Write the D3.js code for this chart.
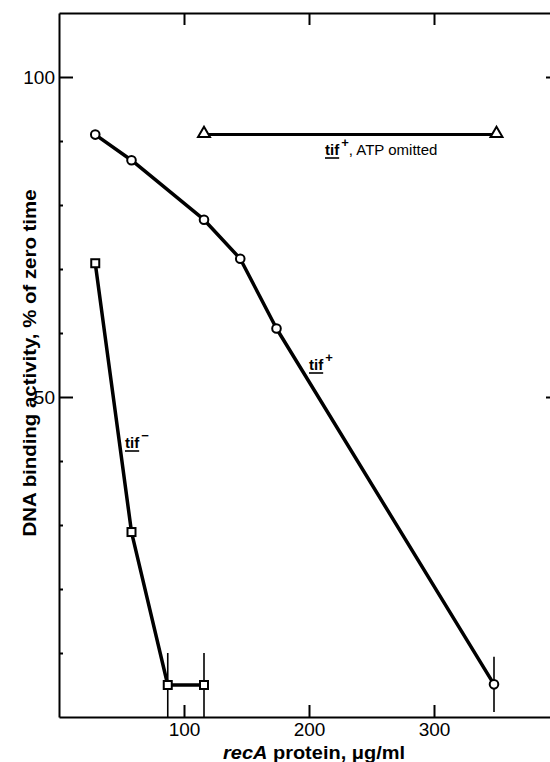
<!DOCTYPE html>
<html>
<head>
<meta charset="utf-8">
<title>recA DNA binding</title>
<script src="https://cdn.jsdelivr.net/npm/d3@7"></script>
<style>
body { margin:0; background:#fff; }
svg text { font-family:"Liberation Sans", Arial, sans-serif; fill:#000; }
.axis path, .axis line { stroke:#000; stroke-width:2px; }
.axis text { font-size:19px; }
.dataline { fill:none; stroke:#000; stroke-width:3.5px; stroke-linejoin:round; }
.errbar { stroke:#000; stroke-width:1.6px; }
.mark { fill:#fff; stroke:#000; stroke-width:2px; }
</style>
</head>
<body>
<div id="chart"></div>
<script>
// recA protein (ug/ml) vs DNA binding activity (% of zero time)
var tifPlusX   = [29, 58, 116, 145, 174, 348];
var tifPlusY   = [91, 87, 77.7, 71.6, 60.7, 5.1];
var tifPlusErr = [0, 0, 0, 0, 0, 4.3];

var tifMinusX   = [29, 58, 87, 116];
var tifMinusY   = [70.9, 28.9, 5.0, 5.0];
var tifMinusErr = [0, 0, 5, 5];

var noAtpX = [116, 350];
var noAtpY = [91, 91];

var xTicks = [100, 200, 300];
var yTicks = [50, 100];
var yMinor = [10, 20, 30, 40, 60, 70, 80, 90];

var W = 550, H = 762;
var svg = d3.select("#chart").append("svg").attr("width", W).attr("height", H);

var x = d3.scaleLinear().domain([0, 400]).range([59, 559]);
var y = d3.scaleLinear().domain([0, 110]).range([717, 13]);

// frame and ticks (all ticks point inward)
svg.append("g").attr("class", "axis").attr("transform", "translate(" + x(0) + ",0)")
	.call(d3.axisLeft(y).tickValues(yTicks).tickSizeInner(-14).tickSizeOuter(0).tickPadding(4));
svg.append("g").attr("class", "axis minor").attr("transform", "translate(" + x(0) + ",0)")
	.call(d3.axisLeft(y).tickValues(yMinor).tickSizeInner(-4).tickSizeOuter(0).tickFormat(""))
	.select(".domain").remove();
svg.append("g").attr("class", "axis").attr("transform", "translate(0," + y(0) + ")")
	.call(d3.axisBottom(x).tickValues(xTicks).tickSizeInner(-12).tickSizeOuter(0).tickPadding(6));
svg.append("g").attr("class", "axis").attr("transform", "translate(0," + y(110) + ")")
	.call(d3.axisTop(x).tickValues(xTicks).tickSizeInner(-12).tickSizeOuter(0).tickFormat(""));
svg.append("g").attr("class", "axis").attr("transform", "translate(" + x(400) + ",0)")
	.call(d3.axisRight(y).tickValues(yTicks).tickSizeInner(-13).tickSizeOuter(0).tickFormat(""));
svg.selectAll(".axis .tick text").attr("font-family", "Liberation Sans, Arial, sans-serif").attr("font-size", 19);

// axis titles
svg.append("text")
	.attr("transform", "translate(36," + 363 + ") rotate(-90)")
	.attr("text-anchor", "middle")
	.attr("font-size", 19).attr("font-weight", "bold")
	.attr("textLength", 347).attr("lengthAdjust", "spacingAndGlyphs")
	.text("DNA binding activity, % of zero time");

var xt = svg.append("text")
	.attr("x", 314).attr("y", 759)
	.attr("text-anchor", "middle")
	.attr("font-size", 19).attr("font-weight", "bold")
	.attr("textLength", 182).attr("lengthAdjust", "spacingAndGlyphs");
xt.append("tspan").attr("font-style", "italic").text("recA");
xt.append("tspan").text(" protein, \u03bcg/ml");

// series
function pts(xs, ys) { return xs.map(function(v, i){ return [v, ys[i]]; }); }
var line = d3.line().x(function(d){ return x(d[0]); }).y(function(d){ return y(d[1]); });

var plus = pts(tifPlusX, tifPlusY), minus = pts(tifMinusX, tifMinusY), noAtp = pts(noAtpX, noAtpY);

svg.append("path").attr("class", "dataline").attr("d", line(plus));
svg.append("path").attr("class", "dataline").attr("d", line(minus));
svg.append("path").attr("class", "dataline").style("stroke-width", "3px").attr("d", line(noAtp));

// error bars
function errbars(xs, ys, es) {
	svg.append("g").selectAll("line").data(xs.map(function(v, i){ return [v, ys[i], es[i]]; })
		.filter(function(d){ return d[2] > 0; }))
		.enter().append("line").attr("class", "errbar")
		.attr("x1", function(d){ return x(d[0]); }).attr("x2", function(d){ return x(d[0]); })
		.attr("y1", function(d){ return y(d[1] + d[2]); }).attr("y2", function(d){ return y(d[1] - d[2]); });
}
errbars(tifPlusX, tifPlusY, tifPlusErr);
errbars(tifMinusX, tifMinusY, tifMinusErr);

svg.append("g").selectAll("circle").data(plus).enter().append("circle")
	.attr("class", "mark").attr("r", 4.3)
	.attr("cx", function(d){ return x(d[0]); }).attr("cy", function(d){ return y(d[1]); });
svg.append("g").selectAll("rect").data(minus).enter().append("rect")
	.attr("class", "mark").attr("width", 8).attr("height", 8)
	.attr("x", function(d){ return x(d[0]) - 4; }).attr("y", function(d){ return y(d[1]) - 4; });
svg.append("g").selectAll("path").data(noAtp).enter().append("path")
	.attr("class", "mark")
	.attr("d", d3.symbol(d3.symbolTriangle, 62))
	.attr("transform", function(d){ return "translate(" + x(d[0]) + "," + (y(d[1]) - 1) + ")"; });

// labels: underlined "tif" with superscript sign
function tifLabel(px, py, sign, rest) {
	var g = svg.append("g").attr("transform", "translate(" + px + "," + py + ")");
	var t = g.append("text").attr("font-size", 15).attr("font-weight", "bold").text("tif");
	var w = t.node().getComputedTextLength();
	g.append("line").attr("x1", 0).attr("x2", w).attr("y1", 3).attr("y2", 3)
		.attr("stroke", "#000").attr("stroke-width", 1.6);
	var s = g.append("text").attr("x", w + 2).attr("y", -8)
		.attr("font-size", 13).attr("font-weight", "bold").text(sign);
	if (rest) {
		g.append("text").attr("x", w + 2 + s.node().getComputedTextLength())
			.attr("font-size", 15).text(rest);
	}
}
tifLabel(325, 155, "+", ", ATP omitted");
tifLabel(309, 370, "+");
tifLabel(125, 448, "\u2212");
</script>
</body>
</html>
